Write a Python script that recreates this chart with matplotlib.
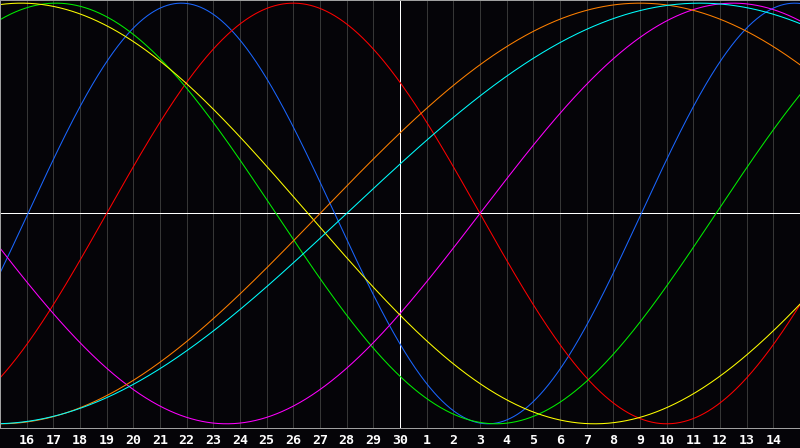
import numpy as np
import matplotlib
matplotlib.use('Agg')
import matplotlib.pyplot as plt

# day labels along the bottom (index 0 = the 15th, left edge)
days = list(range(15, 31)) + list(range(1, 15))

# cycle lengths (days), colours and where each curve peaks (day index)
periods = [23, 28, 33, 38, 43, 48, 53]
colors = ['#1a66ff', '#ff0000', '#00ee00', '#ff00ff', '#ffff00', '#ff8000', '#00ffff']
peak_at = [6.8, 11.0, 2.1, 27.5, 0.8, 24.0, 26.25]
today_idx = 15

px = 0.72  # one pixel at 100 dpi
bg = '#050408'
fig = plt.figure(figsize=(8, 4.48), dpi=100, facecolor=bg)
ax = fig.add_axes([0, 20 / 448, 1, 428 / 448])
ax.set_facecolor(bg)

# grid lines, white one for today
for i in range(1, len(days)):
    col = 'white' if i == today_idx else '#363636'
    ax.axvline(i, color=col, lw=px, antialiased=False, zorder=1)
ax.axhline(0, color='white', lw=px, antialiased=False, zorder=1)

x = np.linspace(0, 30, 1201)
for p, c, pk in zip(periods, colors, peak_at):
    y = np.cos(2 * np.pi * (x - pk) / p)
    ax.plot(x, y, color=c, lw=0.75, antialiased=True, zorder=2)

ax.set_xlim(0, 30)
ax.set_ylim(-1.02, 1.015)
ax.set_yticks([])
ax.set_xticks(range(1, len(days)))
ax.set_xticklabels([str(d) for d in days[1:]], color='white', fontsize=9.5,
                   fontweight='bold', family='DejaVu Sans Mono')
ax.tick_params(axis='x', length=0, pad=4)
for s in ax.spines.values():
    s.set_color('#a0a0a0')
    s.set_linewidth(px)

fig.savefig('out.png', dpi=100, facecolor=bg)
